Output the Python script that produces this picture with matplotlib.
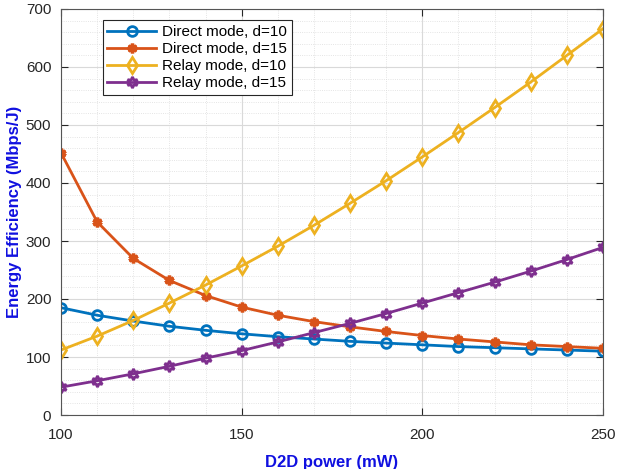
import matplotlib
matplotlib.use("Agg")
import matplotlib.pyplot as plt
from matplotlib.ticker import MultipleLocator

plt.rcParams['font.family'] = ['Liberation Sans', 'DejaVu Sans']

power = [100, 110, 120, 130, 140, 150, 160, 170, 180, 190, 200, 210, 220, 230, 240, 250]
direct_d10 = [185, 172, 162, 153, 146, 140, 135, 131, 127, 124, 121, 118, 116, 114, 112, 110]
direct_d15 = [452, 333, 270, 232, 206, 186, 172, 161, 152, 144, 137, 131, 126, 121, 118, 115]
relay_d10 = [112, 136, 163, 193, 224, 257, 291, 327, 365, 404, 445, 487, 530, 574, 620, 666]
relay_d15 = [48, 59, 71, 84, 98, 111, 126, 142, 158, 175, 193, 211, 229, 248, 268, 289]
labels = ["Direct mode, d=10", "Direct mode, d=15", "Relay mode, d=10", "Relay mode, d=15"]

fig = plt.figure(figsize=(6.2, 4.69), dpi=100)
ax = fig.add_axes([61/620, 54/469, 542/620, 406/469])

lw = 2
ax.plot(power, direct_d10, color='#0072BD', lw=lw, marker='o', ms=7, mfc='none', mew=2, label=labels[0])
ax.plot(power, direct_d15, color='#D95319', lw=lw, marker=(6, 2, 0), ms=7, mew=2.5, label=labels[1])
ax.plot(power, relay_d10, color='#EDB120', lw=lw, marker='d', ms=8, mfc='none', mew=2, label=labels[2])
ax.plot(power, relay_d15, color='#7E2F8E', lw=lw, marker=(6, 1, 0), ms=8, mfc='none', mew=2, label=labels[3])

ax.set_xlim(100, 250)
ax.set_ylim(0, 700)
ax.xaxis.set_major_locator(MultipleLocator(50))
ax.xaxis.set_minor_locator(MultipleLocator(10))
ax.yaxis.set_major_locator(MultipleLocator(100))
ax.yaxis.set_minor_locator(MultipleLocator(20))
ax.grid(True, which='major', color='#d9d9d9', lw=0.8)
ax.grid(True, which='minor', color='#dcdcdc', lw=0.6, ls=':')
ax.set_axisbelow(True)
ax.tick_params(which='both', direction='in', top=True, right=True, labelsize=11, colors='#262626')
ax.tick_params(which='minor', length=0)
ax.tick_params(which='major', length=5)
ax.tick_params(axis='x', which='major', pad=9)
ax.tick_params(axis='y', which='major', pad=7)
for s in ax.spines.values():
    s.set_color('#555555')
    s.set_linewidth(0.8)

ax.set_xlabel('D2D power (mW)', fontsize=12, fontweight='bold', color='#1010E0', labelpad=10)
ax.set_ylabel('Energy Efficiency (Mbps/J)', fontsize=12, fontweight='bold', color='#1010E0', labelpad=3)

leg = ax.legend(loc='upper left', bbox_to_anchor=(0.077, 0.972), fontsize=11, fancybox=False,
                edgecolor='#262626', framealpha=1, borderpad=0.3, labelspacing=0.2,
                handlelength=3.2, handletextpad=0.4, borderaxespad=0)
leg.get_frame().set_linewidth(0.8)

fig.savefig('out.png', dpi=100)
